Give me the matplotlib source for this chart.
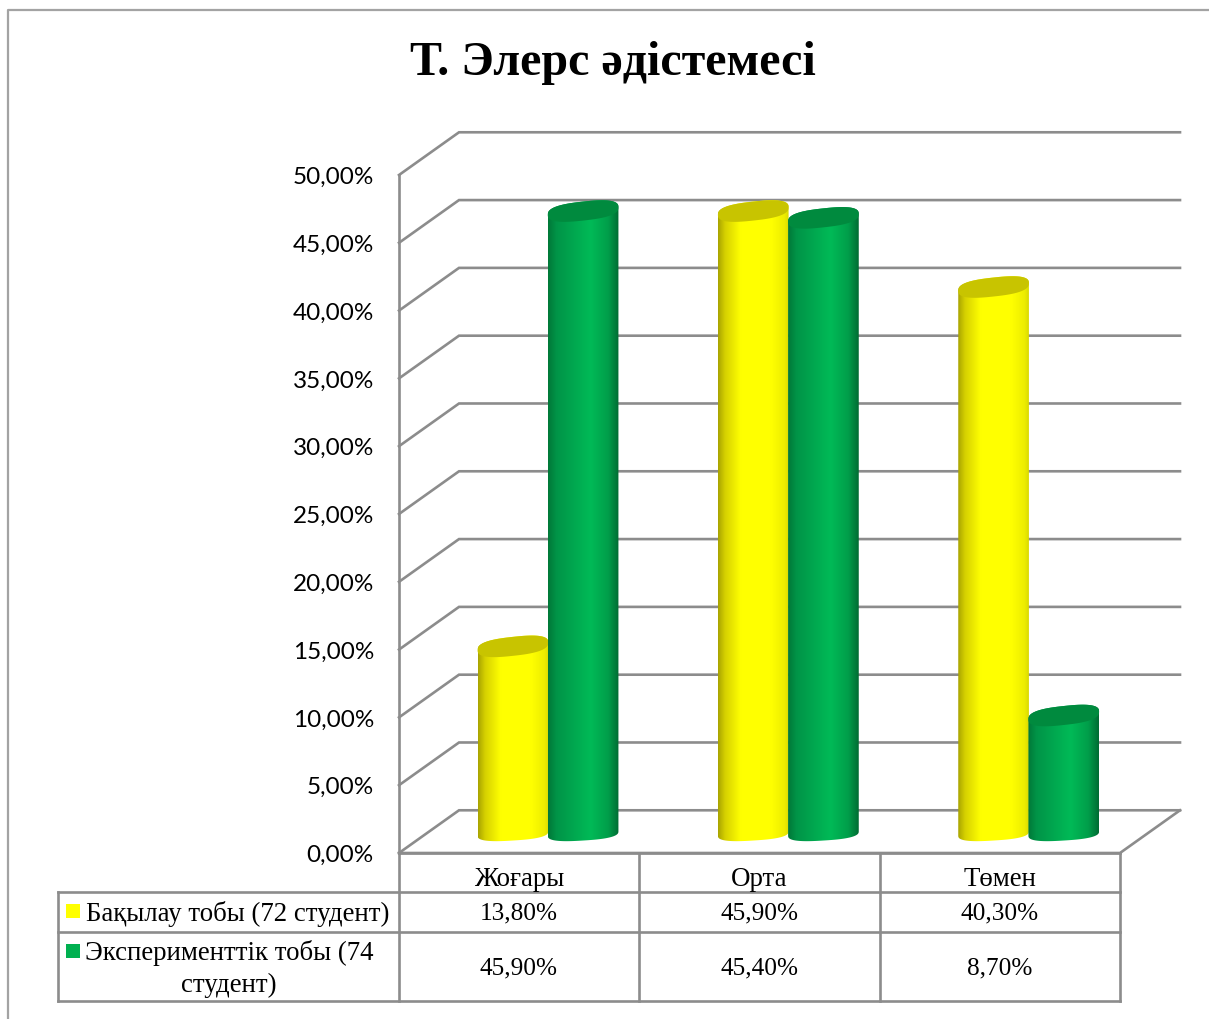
import numpy as np
from matplotlib import pyplot as plt
from matplotlib.patches import Polygon, Rectangle
from matplotlib.transforms import ScaledTranslation

# data
title = 'Т. Элерс әдістемесі'
categories = ['Жоғары', 'Орта', 'Төмен']
control = [13.8, 45.9, 40.3]
experiment = [45.9, 45.4, 8.7]
yticks = [0, 5, 10, 15, 20, 25, 30, 35, 40, 45, 50]

W, H = 1209, 1019
GREY = '#8c8c8c'
SERIF = 'Liberation Serif'


def pct(v):
    return f'{v:.2f}'.replace('.', ',') + '%'


fig = plt.figure(figsize=(W / 100, H / 100), dpi=100, facecolor='white')

# pixel axes for the frame, title and table
pix = fig.add_axes([0, 0, 1, 1], zorder=1)
pix.set_xlim(0, W)
pix.set_ylim(H, 0)
pix.axis('off')

# chart axes: x in categories, y in percent, filling the whole figure
px_cat = (1120 - 399) / 3
px_pct = (853 - 175) / 50
ax = fig.add_axes([0, 0, 1, 1], zorder=2)
ax.patch.set_alpha(0)
xlim = (-399 / px_cat, (W - 399) / px_cat)
ylim = ((853 - H) / px_pct, 853 / px_pct)
ax.set_xlim(xlim)
ax.set_ylim(ylim)
ax.set_autoscale_on(False)
for s in ['top', 'right', 'bottom']:
    ax.spines[s].set_visible(False)
ax.spines['left'].set_position(('data', 0))
ax.spines['left'].set_bounds(0, 50)
ax.spines['left'].set_color(GREY)
ax.spines['left'].set_linewidth(1.9)
ax.set_xticks([])
ax.set_yticks(yticks)
ax.set_yticklabels([pct(v) for v in yticks], family='Lato', fontsize=17.5, color='black')
ax.tick_params(axis='y', length=0, pad=18)
for lab in ax.get_yticklabels():
    lab.set_transform(lab.get_transform() + ScaledTranslation(0, -0.5 / 100, fig.dpi_scale_trans))

# walls and floor
dx, dy = 60 / px_cat, 3.15
right = 3 + dx
for v in yticks:
    ax.plot([0, dx, right], [v, v + dy, v + dy], color=GREY, lw=1.9, zorder=1,
            solid_joinstyle='miter')
ax.plot([0, 3, right], [0, 0, dy], color=GREY, lw=1.9, zorder=1)


def ellipse(cx, cy, a, b, tilt, t0=0, t1=2 * np.pi):
    # slightly squared ellipse, the 3d caps in the chart are rounder than a sheared ellipse
    t = np.linspace(t0, t1, 80)
    c = np.sign(np.cos(t)) * np.abs(np.cos(t)) ** 0.75
    s = np.sign(np.sin(t)) * np.abs(np.sin(t)) ** 0.75
    return np.column_stack([cx + a * c, cy + b * s + tilt * c])


def cylinder(cx, value, stops, top_color, z):
    a = 0.147
    base = 1.44
    top = base + value
    low = ellipse(cx, base, a, 0.52, 0.16, np.pi, 2 * np.pi)
    high = ellipse(cx, top, a, 0.7, 0.28, 0, np.pi)
    body = Polygon(np.vstack([low, high]), closed=True, transform=ax.transData,
                   fc='none', ec='none')
    ax.add_patch(body)
    xs = np.linspace(0, 1, 256)
    rgb = np.array([np.interp(xs, stops[0], [c[i] for c in stops[1]]) for i in range(3)])
    img = np.transpose(rgb, (1, 0))[np.newaxis, :, :]
    im = ax.imshow(img, extent=(cx - a, cx + a, base - 1, top + 1), aspect='auto', zorder=z,
                   interpolation='bilinear')
    im.set_clip_path(body)
    ax.add_patch(Polygon(ellipse(cx, top, a, 0.7, 0.28), closed=True, fc=top_color, ec='none',
                         zorder=z + 0.1))


yellow = ([0, 0.1, 0.32, 0.75, 0.94, 1],
          [(0.66, 0.64, 0), (0.84, 0.82, 0), (1, 1, 0), (1, 1, 0), (0.93, 0.93, 0), (0.85, 0.85, 0)])
green = ([0, 0.12, 0.6, 0.85, 1],
         [(0, 0.47, 0.22), (0, 0.58, 0.28), (0, 0.73, 0.34), (0, 0.62, 0.29), (0, 0.42, 0.2)])

for i in range(len(categories)):
    cylinder(i + 0.474, control[i], yellow, '#c8c400', 3 + i)
    cylinder(i + 0.766, experiment[i], green, '#008a3e', 3.5 + i)
ax.set_xlim(xlim)
ax.set_ylim(ylim)

# outer frame of the chart
pix.plot([8, 8, W], [H, 10, 10], color='#a3a3a3', lw=1.6)
pix.text(613, 63, title, family=SERIF, weight='bold', fontsize=34.6, ha='center', va='center')

# data table
col_x = [58, 399, 639, 880, 1120]
row_y = [853, 892, 932, 1001]
for x in col_x[1:]:
    pix.plot([x, x], [row_y[0], row_y[-1]], color=GREY, lw=1.9)
pix.plot([58, 58], [row_y[1], row_y[-1]], color=GREY, lw=1.9)
for y in row_y[1:]:
    pix.plot([58, 1120], [y, y], color=GREY, lw=1.9)
pix.plot([399, 1120], [row_y[0], row_y[0]], color=GREY, lw=1.9)

fs = 19.4
fs_num = 18.2
for i, c in enumerate(categories):
    xm = (col_x[i + 1] + col_x[i + 2]) / 2
    pix.text(xm, 880, c, family=SERIF, fontsize=fs, ha='center', va='center')
    pix.text(xm, 913, pct(control[i]), family=SERIF, fontsize=fs_num, ha='center', va='center')
    pix.text(xm, 968, pct(experiment[i]), family=SERIF, fontsize=fs_num, ha='center', va='center')

pix.add_patch(Rectangle((66, 904), 14, 14, fc='#ffff00', ec='none'))
pix.add_patch(Rectangle((66, 944), 14, 14, fc='#00b050', ec='none'))
pix.text(86, 914, 'Бақылау тобы (72 студент)', family=SERIF, fontsize=fs, va='center')
pix.text(85, 953, 'Эксперименттік тобы (74', family=SERIF, fontsize=fs, va='center')
pix.text(229, 985, 'студент)', family=SERIF, fontsize=fs, ha='center', va='center')

plt.savefig('out.png', dpi=100)
plt.close()
